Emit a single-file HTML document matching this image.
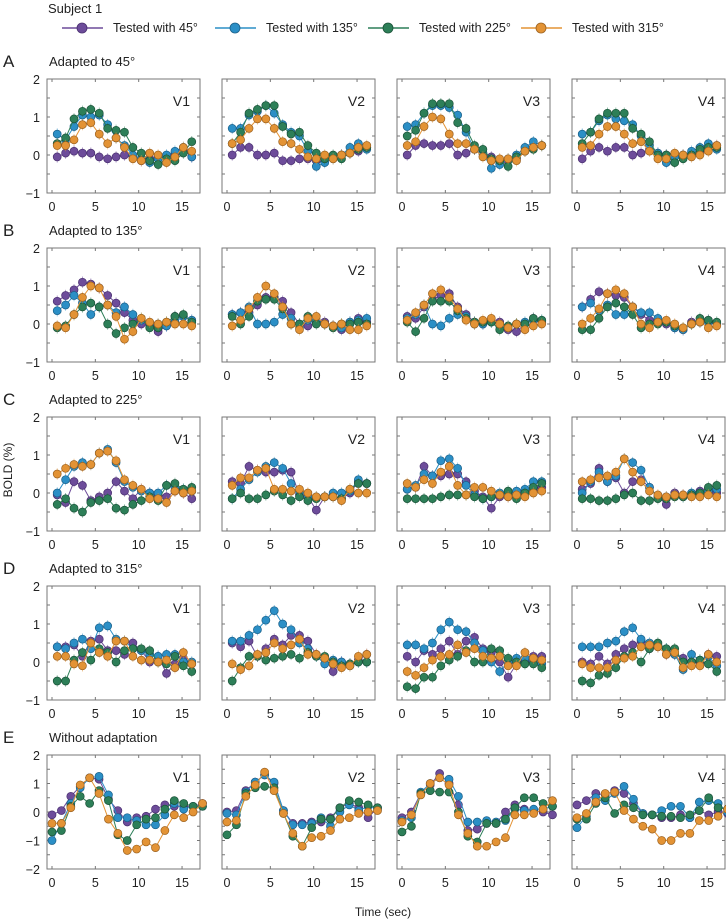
<!DOCTYPE html>
<html><head><meta charset="utf-8"><title>BOLD adaptation</title>
<style>
html,body{margin:0;padding:0;background:#fff;}
svg{display:block;font-family:"Liberation Sans",Arial,sans-serif;}
</style></head>
<body>
<svg id="chart" width="726" height="922" viewBox="0 0 726 922" xmlns="http://www.w3.org/2000/svg">
<text x="48" y="13" font-size="13" fill="#222">Subject 1</text>
<g id="legend"></g>
<text x="12" y="470" font-size="12" fill="#222" text-anchor="middle" transform="rotate(-90 12 470)">BOLD (%)</text>
<text x="383" y="916" font-size="12" fill="#222" text-anchor="middle">Time (sec)</text>
<g id="panels"></g>
</svg>
<script>
const seriesNames = ["Tested with  45°","Tested with 135°","Tested with 225°","Tested with 315°"];
const colors = ["#6d4c9a","#2b8fc6","#2d7f58","#e39335"];
const strokes = ["#4a3070","#1a5f88","#1b5238","#9c6220"];
const rowLetters = ["A","B","C","D","E"];
const rowTitles = ["Adapted to 45°","Adapted to 135°","Adapted to 225°","Adapted to 315°","Without adaptation"];
const areaNames = ["V1","V2","V3","V4"];
const xTicks = [0,5,10,15];
const yTicksABCD = [2,1,0,-1];
const yTicksE = [2,1,0,-1,-2];

const rowA = [
 [[-0.05,0.05,0.1,0.05,0.05,-0.05,-0.1,-0.05,0,-0.05,-0.15,-0.1,-0.05,-0.05,0,0.15,-0.05],
  [0.55,0.4,0.75,1.05,1.0,1.05,0.8,0.45,0.25,0,-0.1,-0.2,-0.1,0,0.1,0.2,-0.05],
  [0.3,0.45,0.95,1.15,1.2,1.1,0.7,0.65,0.6,0.2,0.05,-0.15,-0.25,-0.1,-0.15,0.05,0.35],
  [0.25,0.25,0.4,0.8,0.85,0.55,0.3,0.45,0.2,-0.1,-0.15,0.05,0.0,-0.2,-0.05,0.2,0.1]],
 [[0,0.2,0.2,0,0,0.05,-0.15,-0.15,-0.1,-0.1,-0.15,-0.05,-0.05,0,0.05,0.1,0.2],
  [0.7,0.7,1.05,1.15,1.3,1.1,0.8,0.6,0.5,0.1,-0.3,-0.2,-0.1,0,0.2,0.3,0.15],
  [0.3,0.6,1.1,1.2,1.3,1.3,0.75,0.55,0.6,0.25,0.05,-0.1,0.0,-0.1,0.05,0.15,0.2],
  [0.3,0.4,0.7,0.95,0.95,0.7,0.35,0.3,0.15,-0.05,-0.1,0.0,-0.1,0,0.05,0.2,0.25]],
 [[0,0.25,0.3,0.25,0.25,0.3,0.0,0.05,0.15,0.05,-0.05,-0.15,-0.15,-0.1,0.1,0.2,0.25],
  [0.75,0.8,1.1,1.3,1.3,1.25,1.05,0.6,0.15,0.05,-0.35,-0.25,-0.1,0.0,0.2,0.35,0.25],
  [0.5,0.65,1.1,1.35,1.35,1.35,0.85,0.7,0.25,0.15,-0.1,-0.15,-0.3,-0.05,0.1,0.15,0.25],
  [0.25,0.35,0.75,1.0,0.95,0.55,0.3,0.3,0.15,-0.05,-0.15,-0.1,-0.1,-0.15,0.1,0.2,0.25]],
 [[-0.1,0.1,0.2,0.1,0.2,0.2,0.0,0.05,0.15,0.05,0.0,-0.05,0.0,0.0,0.05,0.15,0.25],
  [0.55,0.6,0.9,1.05,0.95,0.9,0.8,0.5,0.25,0.05,-0.2,-0.05,0.0,0.1,0.2,0.3,0.15],
  [0.3,0.6,0.95,1.1,1.1,1.1,0.7,0.55,0.35,0.0,0.0,-0.2,-0.1,0.0,0.15,0.2,0.2],
  [0.2,0.25,0.55,0.75,0.75,0.55,0.3,0.35,0.1,-0.1,-0.1,0.05,0.0,-0.05,0.0,0.1,0.25]]
];
const rowB = [
 [[0.6,0.75,0.9,1.1,1.05,0.95,0.75,0.55,0.3,0.1,0.0,-0.05,-0.2,-0.05,0.2,0.2,0.1],
  [0.35,0.5,0.75,0.55,0.25,0.45,0.5,0.3,0.45,0.25,0.1,0.0,0.0,-0.05,0.05,0.2,0.1],
  [-0.1,-0.05,0.25,0.45,0.55,0.45,0.0,-0.25,-0.1,0.0,0.15,-0.1,-0.1,0.05,0.2,0.25,0.05],
  [-0.05,-0.1,0.25,0.7,1.0,0.95,0.5,0.2,-0.4,-0.2,0.15,0.05,0.0,0.05,0.0,0.0,-0.05]],
 [[0.25,0.3,0.3,0.5,0.7,0.7,0.6,0.3,0.0,-0.05,0.05,0.05,-0.05,-0.15,0.05,0.15,0.05],
  [0.25,0.3,0.45,0.0,0.0,0.05,0.25,0.15,-0.1,0.1,0.1,0.0,-0.05,-0.1,0.05,0.1,0.15],
  [0.2,0.0,0.2,0.6,0.65,0.65,0.4,0.0,0.0,0.2,0.0,0.0,-0.1,0.0,0.0,0.05,0.0],
  [-0.05,0.1,0.4,0.7,1.0,0.8,0.45,0.0,-0.15,0.15,0.2,0.0,-0.05,0.0,-0.15,-0.15,-0.05]],
 [[0.2,0.15,0.45,0.65,0.75,0.8,0.45,0.25,0.05,0.0,0.1,0.05,-0.15,-0.2,0.0,0.15,0.05],
  [0.15,0.25,0.5,0.0,-0.05,0.15,0.25,0.2,0.0,0.0,0.05,-0.05,-0.1,0.0,0.05,0.1,0.1],
  [0.05,-0.2,0.15,0.6,0.6,0.6,0.35,0.15,0.05,0.05,0.05,-0.15,-0.05,0.0,0.0,0.15,0.1],
  [0.1,0.3,0.5,0.8,0.9,0.7,0.4,0.1,0.0,0.1,0.15,0.0,-0.1,0.0,-0.15,-0.05,0.0]],
 [[0.45,0.65,0.85,0.8,0.75,0.7,0.45,0.25,0.1,0.1,0.0,-0.1,-0.15,0.05,0.05,0.1,0.0],
  [0.45,0.55,0.35,0.5,0.25,0.25,0.45,0.3,0.3,0.15,0.05,-0.1,-0.15,0.0,0.05,0.05,0.0],
  [-0.15,-0.15,0.15,0.45,0.55,0.45,0.25,-0.1,0.0,0.0,0.05,-0.05,-0.1,0.0,0.15,0.1,0.05],
  [0.0,0.15,0.4,0.8,0.9,0.8,0.45,0.0,-0.1,0.05,0.1,0.0,-0.1,0.0,0.05,-0.1,-0.05]]
];
const rowC = [
 [[-0.05,-0.25,0.3,0.2,-0.2,-0.1,0.0,0.3,0.05,-0.15,0.1,0.0,-0.05,-0.1,0.05,0.0,-0.15],
  [0.0,0.35,0.7,0.8,0.75,1.05,1.15,0.8,0.3,0.15,0.05,0.0,0.0,0.2,0.15,0.1,0.05],
  [-0.3,-0.15,-0.4,-0.5,-0.25,-0.2,-0.15,-0.4,-0.45,-0.3,-0.2,-0.1,-0.2,0.2,0.25,0.1,0.15],
  [0.5,0.65,0.75,0.7,0.75,1.05,1.1,0.85,0.35,0.2,0.1,-0.15,-0.15,-0.25,0.05,0.0,0.05]],
 [[0.3,0.25,0.7,0.6,0.55,0.55,0.6,0.55,-0.05,-0.1,-0.45,-0.1,-0.1,-0.15,0.0,0.3,0.25],
  [-0.15,0.1,0.35,0.55,0.7,0.8,0.65,0.25,0.05,-0.1,-0.1,-0.1,0.0,0.0,0.05,0.35,0.25],
  [-0.15,0.0,-0.15,-0.15,-0.05,0.05,-0.05,-0.2,-0.1,-0.2,-0.15,-0.1,-0.1,-0.15,0.1,0.25,0.25],
  [0.2,0.4,0.4,0.6,0.65,0.1,0.1,0.05,0.1,0.0,-0.1,-0.1,-0.1,-0.2,0.1,0.0,0.0]],
 [[0.1,0.15,0.7,0.45,0.45,0.5,0.5,0.3,0.05,-0.1,-0.4,-0.1,-0.1,-0.05,0.0,0.1,0.15],
  [0.1,0.2,0.5,0.45,0.85,0.9,0.65,0.2,-0.05,-0.15,-0.1,0.0,0.0,0.05,0.1,0.3,0.3],
  [-0.15,-0.15,-0.15,-0.15,-0.1,-0.05,-0.05,-0.05,-0.1,-0.15,-0.1,-0.05,0.05,-0.15,0.0,0.15,0.25],
  [0.25,0.15,0.35,0.25,0.55,0.7,0.2,-0.05,0.15,0.15,0.05,-0.05,-0.1,-0.05,-0.1,0.0,0.05]],
 [[0.1,0.25,0.65,0.3,0.4,0.0,0.3,0.35,0.15,-0.1,-0.3,0.0,-0.05,-0.05,0.05,0.1,0.0],
  [0.0,0.3,0.55,0.3,0.45,0.9,0.8,0.6,0.15,-0.1,-0.1,-0.05,-0.1,0.0,0.0,0.05,0.1],
  [-0.15,-0.15,-0.2,-0.2,-0.15,-0.05,0.0,-0.2,-0.2,-0.15,-0.15,-0.1,-0.1,-0.05,0.0,0.15,0.2],
  [0.3,0.35,0.4,0.45,0.55,0.9,0.55,0.3,0.05,-0.05,-0.1,-0.05,-0.05,-0.1,-0.1,-0.05,-0.1]]
];
const rowD = [
 [[0.4,0.4,0.45,0.15,0.55,0.6,0.3,0.3,0.2,0.5,0.3,0.0,0.15,-0.3,-0.05,0.1,-0.05],
  [0.4,0.35,0.5,0.6,0.35,0.9,0.95,0.6,0.55,0.35,0.3,0.2,0.15,0.2,0.2,0.0,0.0],
  [-0.5,-0.5,0.05,0.25,0.05,0.35,0.25,0.0,0.3,0.35,0.35,0.3,0.0,-0.05,0.15,-0.1,-0.25],
  [0.15,0.15,-0.05,-0.1,0.5,0.25,0.15,0.55,0.55,0.15,0.05,0.05,0.0,0.05,-0.15,0.25,-0.05]],
 [[0.5,0.4,0.55,0.15,0.35,0.6,0.45,0.7,0.7,0.55,0.2,0.1,-0.25,0.0,-0.05,0.05,0.2],
  [0.55,0.55,0.7,0.85,1.1,1.35,1.0,0.85,0.5,0.35,0.15,-0.05,0.05,0.0,-0.1,0.0,0.0],
  [-0.5,-0.15,0.15,0.15,0.05,0.1,0.15,0.2,0.1,0.25,0.15,0.15,0.0,-0.1,-0.05,0.0,0.0],
  [-0.05,-0.2,-0.1,0.2,0.25,0.5,0.35,0.45,0.6,0.2,0.2,0.1,-0.05,-0.15,-0.1,0.15,0.2]],
 [[0.15,0.0,0.3,0.2,0.35,0.55,0.2,0.55,0.65,0.35,0.25,0.0,-0.4,-0.05,0.0,0.15,0.15],
  [0.45,0.45,0.35,0.5,0.85,1.05,0.85,0.8,0.5,0.3,0.0,-0.25,0.0,0.1,0.1,0.0,-0.05],
  [-0.65,-0.7,-0.4,-0.4,-0.1,0.05,0.15,0.3,0.0,0.0,0.35,0.3,0.1,0.0,-0.05,-0.05,-0.15],
  [-0.25,-0.35,-0.15,0.05,0.15,0.2,0.45,0.25,0.35,0.15,0.1,0.15,-0.1,-0.1,0.25,0.1,0.05]],
 [[0.0,-0.05,0.15,-0.05,0.2,0.35,0.45,0.55,0.35,0.4,0.2,0.2,0.1,0.0,0.0,0.2,0.15],
  [0.4,0.4,0.4,0.5,0.55,0.8,0.9,0.6,0.5,0.45,0.35,0.2,-0.2,0.2,0.05,0.15,-0.1],
  [-0.5,-0.55,-0.35,-0.3,-0.15,0.15,0.25,0.0,0.35,0.5,0.35,0.35,0.0,0.0,0.05,-0.05,-0.25],
  [-0.05,-0.15,-0.15,-0.15,0.05,0.1,0.15,0.4,0.45,0.4,0.2,0.25,-0.15,-0.1,-0.1,0.2,0.0]]
];
const rowE = [
 [[-0.1,0.05,0.55,0.9,1.2,1.15,0.45,0.05,-0.35,-0.2,-0.15,0.1,0.25,0.2,0.2,0.2,0.3],
  [-1.0,-0.4,0.3,0.85,1.2,1.25,0.6,-0.2,-0.2,-0.3,-0.45,-0.45,-0.1,0.3,0.1,0.2,0.2],
  [-0.7,-0.65,0.2,0.55,0.3,0.75,0.4,-0.8,-1.0,-0.45,-0.25,-0.2,0.1,0.4,0.3,0.2,0.2],
  [-0.4,-0.4,0.15,0.95,1.2,0.65,-0.25,-0.75,-1.35,-1.3,-1.05,-1.25,-0.65,-0.1,-0.2,0.0,0.3]],
 [[0.0,0.05,0.75,1.05,1.3,1.0,0.05,-0.4,-0.4,-0.35,-0.35,-0.2,0.15,0.3,0.15,-0.2,0.15],
  [-0.05,-0.1,0.7,1.05,1.3,1.05,0.05,-0.45,-0.45,-0.4,-0.2,-0.5,0.0,0.25,0.05,0.2,0.1],
  [-0.8,-0.45,0.65,0.85,0.9,0.85,-0.05,-0.85,-1.2,-0.55,-0.25,-0.25,0.15,0.4,0.35,0.25,0.15],
  [-0.35,-0.3,0.55,0.95,1.4,0.75,-0.05,-0.75,-1.2,-0.9,-0.85,-0.65,-0.25,-0.2,-0.05,0.0,0.05]],
 [[-0.2,0.0,0.65,0.95,1.35,1.0,0.25,-0.65,-0.6,-0.4,-0.4,0.0,0.25,0.1,0.05,0.0,-0.1],
  [-0.3,-0.2,0.7,1.0,1.2,1.15,0.55,-0.35,-0.35,-0.3,-0.35,-0.3,0.1,0.05,0.1,0.1,0.2],
  [-0.7,-0.5,0.65,0.75,0.7,0.7,0.0,-0.85,-1.05,-0.4,-0.4,-0.25,0.15,0.5,0.5,0.3,0.2],
  [-0.35,-0.1,0.6,1.0,1.2,0.95,-0.1,-0.75,-1.2,-1.2,-1.05,-0.9,-0.1,-0.1,-0.05,0.1,0.4]],
 [[0.25,0.4,0.65,0.6,0.75,0.65,0.3,-0.05,-0.1,-0.2,-0.2,-0.1,-0.2,0.05,-0.1,0.0,-0.05],
  [-0.55,-0.15,0.5,0.4,0.65,0.9,0.45,-0.05,-0.1,0.05,0.2,0.2,-0.2,0.35,0.4,0.3,0.0],
  [-0.25,-0.25,0.3,0.5,-0.05,0.25,0.15,-0.1,-0.1,-0.15,-0.15,-0.2,-0.1,0.05,0.5,0.15,0.1],
  [-0.2,-0.05,0.35,0.65,0.7,0.05,-0.25,-0.5,-0.6,-1.0,-1.0,-0.75,-0.75,-0.3,-0.3,-0.15,0.1]]
];
const allRows = [rowA,rowB,rowC,rowD,rowE];

const NS = "http://www.w3.org/2000/svg";
const svg = document.getElementById("chart");
function mk(tag, attrs, parent){const e=document.createElementNS(NS,tag);for(const k in attrs)e.setAttribute(k,attrs[k]);parent.appendChild(e);return e;}

// legend
const lg = document.getElementById("legend");
const legendX = [62,215,368,521];
seriesNames.forEach((nm,i)=>{
  const g = mk("g",{},lg);
  
  
  const x0 = legendX[i];
  mk("line",{x1:x0,y1:28,x2:x0+41,y2:28,stroke:colors[i],"stroke-width":1.5},g);
  mk("circle",{cx:x0+20,cy:28,r:5,fill:colors[i],stroke:strokes[i],"stroke-width":0.8},g);
  const t = mk("text",{x:x0+51,y:32,"font-size":12.5,fill:"#222","xml:space":"preserve"},g);
  t.textContent = nm;
});

const panelLeft = [47,222,397,572];
const rowTop = [79,248,417,586,755];
const W = 153, H = 114;
const pg = document.getElementById("panels");

allRows.forEach((rowData,r)=>{
  const isE = r===4;
  const yMin = isE?-2:-1, yMax = 2;
  const top = rowTop[r];
  const lab = mk("text",{x:3,y:top-12,"font-size":17,fill:"#222"},pg);
  
  
  lab.textContent = rowLetters[r];
  const tt = mk("text",{x:49,y:top-13,"font-size":13,fill:"#222"},pg);
  
  
  tt.textContent = rowTitles[r];
  const dt = isE?1.085:0.97, t0 = isE?0:0.6;
  rowData.forEach((panel,p)=>{
    const left = panelLeft[p];
    const g = mk("g",{},pg);
    
    
    const xs = t => left + 5 + t*8.67;
    const ys = v => top + (yMax - v)/(yMax - yMin)*H;
    mk("rect",{x:left,y:top,width:W,height:H,fill:"none",stroke:"#777","stroke-width":1},g);
    // ticks
    xTicks.forEach(t=>{
      mk("line",{x1:xs(t),y1:top+H,x2:xs(t),y2:top+H-3,stroke:"#777"},g);
      mk("line",{x1:xs(t),y1:top,x2:xs(t),y2:top+3,stroke:"#777"},g);
      const tl = mk("text",{x:xs(t),y:top+H+18,"font-size":12.5,fill:"#222","text-anchor":"middle"},g);
      
      
      tl.textContent = t;
    });
    for(let v=yMin; v<=yMax; v+=0.5){
      mk("line",{x1:left,y1:ys(v),x2:left+3,y2:ys(v),stroke:"#777"},g);
      mk("line",{x1:left+W,y1:ys(v),x2:left+W-3,y2:ys(v),stroke:"#777"},g);
    }
    if(p===0){
      (isE?yTicksE:yTicksABCD).forEach(v=>{
        const yl = mk("text",{x:left-7,y:ys(v)+5,"font-size":12.5,fill:"#222","text-anchor":"end"},g);
        
        
        yl.textContent = v<0 ? "\u2212"+Math.abs(v) : v;
      });
    }
    const al = mk("text",{x:left+W-10,y:top+27,"font-size":14,fill:"#222","text-anchor":"end"},g);
    
    
    al.textContent = areaNames[p];
    const err = isE?0.06:0.15;
    panel.forEach((vals,s)=>{
      const sg = mk("g",{},g);
      
      
      const pts = vals.map((v,i)=>[xs(t0+i*dt), ys(v)]);
      vals.forEach((v,i)=>{
        mk("line",{x1:pts[i][0],y1:ys(v+err),x2:pts[i][0],y2:ys(v-err),stroke:colors[s],"stroke-width":0.8,opacity:0.6},sg);
      });
      const ln = mk("polyline",{points:pts.map(q=>q.join(",")).join(" "),fill:"none",stroke:colors[s],"stroke-width":1},sg);
      
      
      pts.forEach(q=>{
        const c = mk("circle",{cx:q[0],cy:q[1],r:4,fill:colors[s],stroke:strokes[s],"stroke-width":0.7},sg);
        
        
      });
    });
  });
});
</script>
</body></html>
